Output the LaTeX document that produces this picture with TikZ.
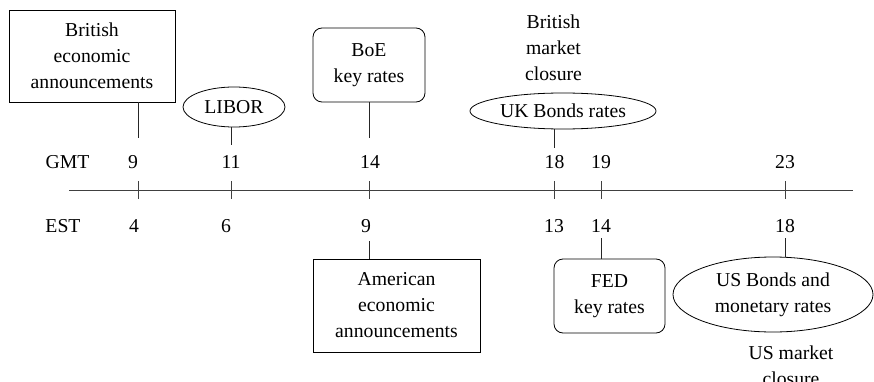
\documentclass[tikz,border=0pt]{standalone}
\usepackage{fontspec}
\setmainfont{Liberation Serif}
\usetikzlibrary{shapes.geometric}
\begin{document}
\begin{tikzpicture}[x=1pt,y=-1pt,
  every node/.style={font=\fontsize{19.7}{26}\selectfont, inner sep=0pt, align=center},
  sqbox/.style={draw, line width=0.8pt},
  rbox/.style={draw, line width=0.8pt, rounded corners=9pt},
  ell/.style={draw, ellipse, line width=0.8pt},
  conn/.style={line width=0.8pt, draw=black!85},
  axis/.style={line width=0.8pt, draw=black!75},
]
\useasboundingbox (0,0) rectangle (874,382);

% timeline
\coordinate (L) at (69,190);
\coordinate (R) at (853,190);
\draw[axis] (L) -- (R);
\foreach \n/\x in {9/138,11/231,14/369,18/554,19/601,23/785}{
  \coordinate (t\n) at (\x,190);
  \draw[axis] ([yshift=9pt]t\n) -- ([yshift=-9pt]t\n);
}

% labels
\node (gmt) at (67.5,162) {GMT};
\node (est) at (63,226) {EST};
\node (g9)  at (133,162) {9};
\node (g11) at (231,162) {11};
\node (g14) at (370,162) {14};
\node (g18) at (554.5,162) {18};
\node (g19) at (601,162) {19};
\node (g23) at (785,162) {23};
\node (e4)  at (134,226) {4};
\node (e6)  at (226,226) {6};
\node (e9)  at (366,226) {9};
\node (e13) at (554,226) {13};
\node (e14) at (601,226) {14};
\node (e18) at (785,226) {18};

% boxes top
\node[sqbox, minimum width=166pt, minimum height=92pt] (brit) at (92,56) {British\\economic\\announcements};
\node[ell, minimum width=102pt, minimum height=40pt] (libor) at (234,107) {LIBOR};
\node[rbox, minimum width=112pt, minimum height=74pt] (boe) at (369,65) {BoE\\key rates};
\node (bmc) at (553.5,48) {British\\market\\closure};
\node[ell, minimum width=186pt, minimum height=36pt] (ukb) at (563,111) {UK Bonds rates};

% boxes bottom
\node[sqbox, minimum width=167pt, minimum height=93pt] (amer) at (396.5,305.5) {American\\economic\\announcements};
\node[rbox, minimum width=111pt, minimum height=74pt] (fed) at (609.5,296) {FED\\key rates};
\node[ell, minimum width=200pt, minimum height=75pt] (usb) at (773,294.5) {US Bonds and\\monetary rates};
\node (usmc) at (791,366) {US market\\closure};

% connector ends
\coordinate (c9)  at (138,138);
\coordinate (c11) at (231,145);
\coordinate (c14) at (369,138);
\coordinate (c18) at (554,148);
\coordinate (d9)  at (369,241);
\coordinate (d14) at (601,238);
\coordinate (d18) at (785,238);

\draw[conn] (brit.south -| c9) -- (c9);
\draw[conn] (libor.south -| c11) -- (c11);
\draw[conn] (boe.south -| c14) -- (c14);
\draw[conn] (554,129) coordinate (uks) -- (c18);
\draw[conn] (amer.north -| d9) -- (d9);
\draw[conn] (fed.north -| d14) -- (d14);
\draw[conn] (785,257) coordinate (uss) -- (d18);
\end{tikzpicture}
\end{document}
